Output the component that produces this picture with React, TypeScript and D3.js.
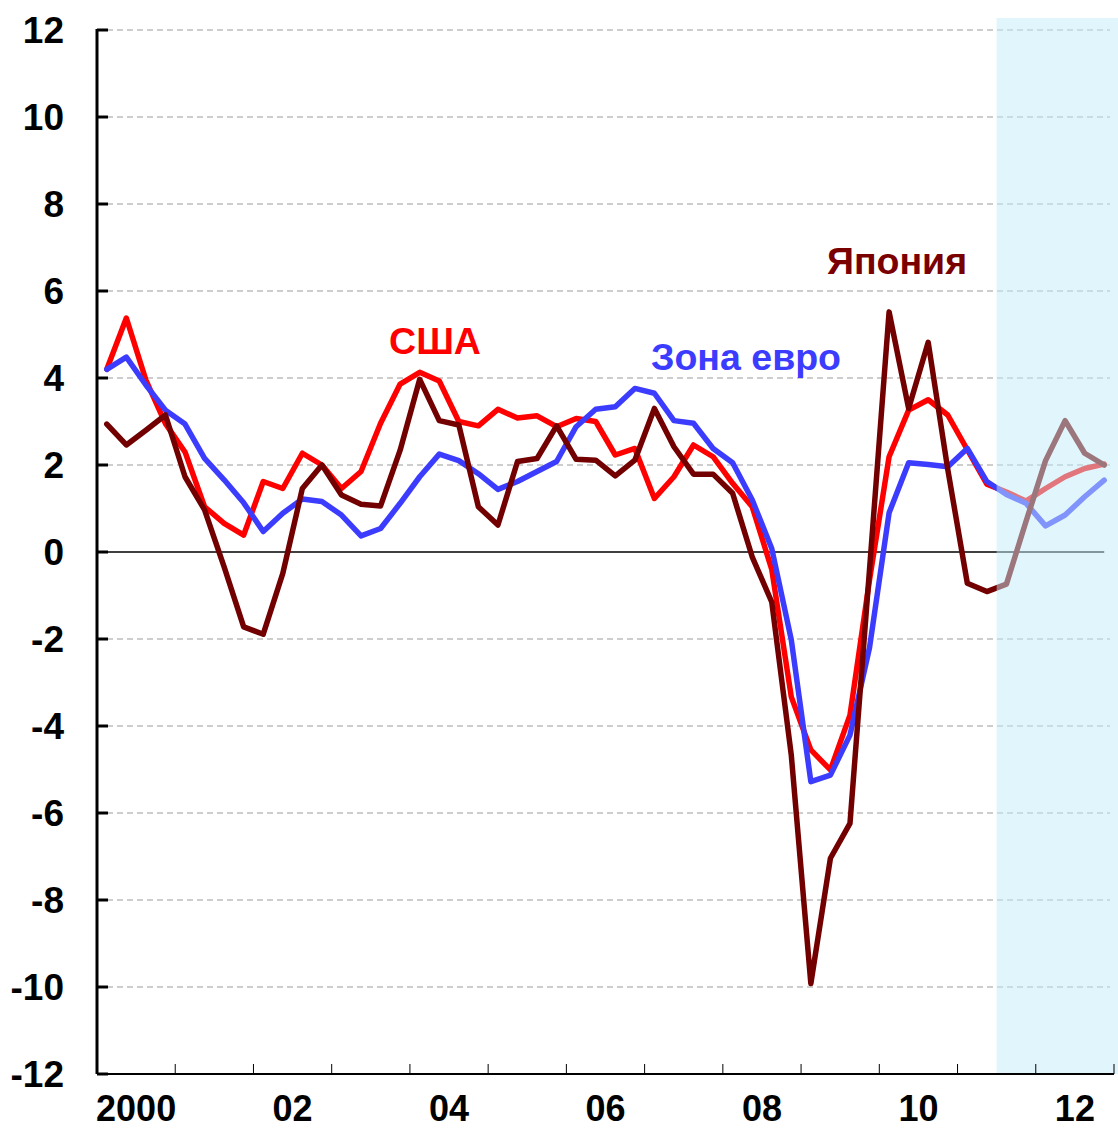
import * as d3 from 'd3'

const width = 1118,
      height = 1131,
      margin = { top: 30, left: 97, right: 4, bottom: 57 },
      innerRight = width - margin.right,
      innerBottom = height - margin.bottom,
      font = '"Liberation Sans", Arial, sans-serif'

// quarterly, 2000Q1 .. 2012Q4
const years = d3.range(2000, 2013)
const yearLabels = ['2000', '02', '04', '06', '08', '10', '12']
const yTicks = d3.range(-12, 13, 2)

const usa = [
  4.2, 5.38, 3.95, 2.95, 2.3, 1.04, 0.66, 0.39, 1.62, 1.46, 2.27, 2.0, 1.46,
  1.85, 2.96, 3.86, 4.13, 3.93, 3.0, 2.9, 3.28, 3.08, 3.13, 2.88, 3.07, 3.0,
  2.23, 2.38, 1.23, 1.73, 2.46, 2.19, 1.58, 1.04, -0.4, -3.33, -4.55, -5.01,
  -3.75, -0.64, 2.19, 3.26, 3.5, 3.15, 2.35, 1.56, 1.38, 1.17, 1.46, 1.73,
  1.92, 2.02
]

const euro = [
  4.2, 4.48, 3.84, 3.26, 2.94, 2.15, 1.66, 1.13, 0.47, 0.89, 1.22, 1.16, 0.85,
  0.37, 0.54, 1.12, 1.73, 2.25, 2.1, 1.8, 1.44, 1.62, 1.85, 2.08, 2.88, 3.28,
  3.34, 3.76, 3.65, 3.02, 2.96, 2.38, 2.05, 1.2, 0.08, -2.02, -5.28, -5.13,
  -4.21, -2.2, 0.9, 2.05, 2.01, 1.96, 2.38, 1.62, 1.32, 1.12, 0.6, 0.85,
  1.27, 1.65
]

const japan = [
  2.94, 2.46, 2.8, 3.15, 1.73, 0.97, -0.34, -1.72, -1.89, -0.49, 1.46, 2.0,
  1.31, 1.1, 1.06, 2.34, 3.97, 3.02, 2.92, 1.04, 0.62, 2.08, 2.15, 2.9, 2.13,
  2.11, 1.75, 2.11, 3.3, 2.42, 1.79, 1.79, 1.35, -0.11, -1.15, -4.67, -9.92,
  -7.04, -6.24, -0.4, 5.52, 3.3, 4.82, 1.9, -0.72, -0.91, -0.74, 0.7, 2.1,
  3.02, 2.27, 2.0
]

const forecastStart = 46 // 2011Q3

const series = [
  { name: 'США', values: usa, color: '#ff0000', labelColor: '#ff0000', lx: 435, ly: 354 },
  { name: 'Зона евро', values: euro, color: '#3c3cff', labelColor: '#3c3cff', lx: 746, ly: 370 },
  { name: 'Япония', values: japan, color: '#730000', labelColor: '#7a0000', lx: 897, ly: 274 }
]

export default function App() {
  const x = d3.scaleLinear().domain([0, 52]).range([margin.left, 1114])
  const y = d3.scaleLinear().domain([-12, 12]).range([innerBottom, margin.top])

  const line = d3.line<number>()
    .x((d, i) => x(i + 0.5))
    .y(d => y(d))

  return (
    <svg width={width} height={height} style={{ position: 'absolute', left: 0, top: 0, background: '#fff' }}>
      {/* grid */}
      <g className='grid'>
        {yTicks.filter(t => t !== 0 && t !== -12).map(t => (
          <line key={t} x1={margin.left} x2={innerRight - 4} y1={y(t)} y2={y(t)}
            stroke='#bdbdbd' strokeWidth={1.3} strokeDasharray='6,4' />
        ))}
      </g>
      <line x1={margin.left} x2={x(51.5)} y1={y(0)} y2={y(0)} stroke='#000' strokeWidth={1.6} />

      {/* lines */}
      <g className='lines'>
        {series.map(s => (
          <path key={s.name} d={line(s.values) || ''} fill='none' stroke={s.color}
            strokeWidth={5.5} strokeLinejoin='round' strokeLinecap='round' />
        ))}
      </g>

      {/* forecast shading */}
      <rect x={x(forecastStart)} y={18} width={width - x(forecastStart)} height={innerBottom - 18}
        fill='#c4ebfa' opacity={0.5} />

      {/* left axis */}
      <g className='axis left'>
        <line x1={margin.left} x2={margin.left} y1={y(12) - 1} y2={innerBottom} stroke='#000' strokeWidth={3} />
        {yTicks.map(t => (
          <g key={t}>
            <line x1={margin.left} x2={margin.left + 11} y1={y(t)} y2={y(t)} stroke='#000' strokeWidth={3} />
            <text x={64} y={y(t)} dy='0.36em' textAnchor='end'
              style={{ fontFamily: font, fontWeight: 'bold', fontSize: 37 }}>{t}</text>
          </g>
        ))}
      </g>

      {/* bottom axis */}
      <g className='axis bottom'>
        <line x1={margin.left} x2={1114} y1={innerBottom} y2={innerBottom} stroke='#000' strokeWidth={2} />
        {years.map((yr, i) => (
          <line key={yr} x1={x(i * 4 + 4)} x2={x(i * 4 + 4)} y1={innerBottom} y2={innerBottom - 10}
            stroke='#000' strokeWidth={1} />
        ))}
        {yearLabels.map((lab, i) => (
          <text key={lab} x={x(i * 8 + 2)} y={1121} textAnchor='middle'
            style={{ fontFamily: font, fontWeight: 'bold', fontSize: 36 }}>{lab}</text>
        ))}
      </g>

      {/* labels */}
      {series.map(s => (
        <text key={s.name} x={s.lx} y={s.ly} textAnchor='middle' fill={s.labelColor}
          style={{ fontFamily: font, fontWeight: 'bold', fontSize: 37.5 }}>{s.name}</text>
      ))}
    </svg>
  )
}
